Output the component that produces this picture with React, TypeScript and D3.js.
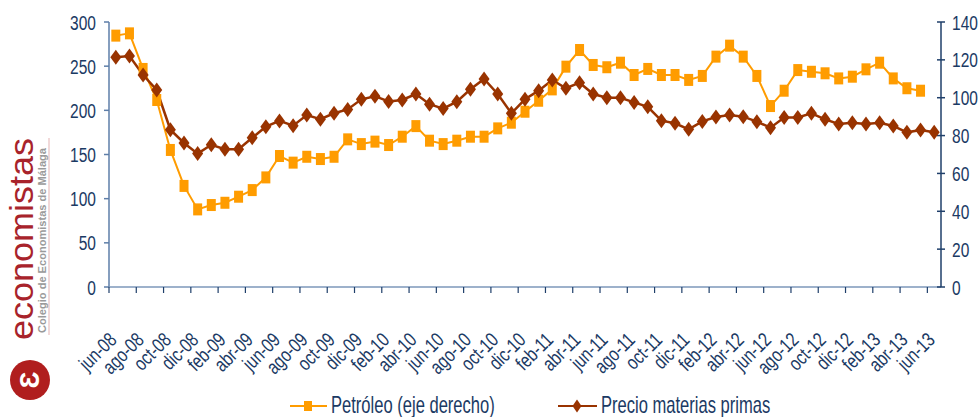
import React from "react";
import * as d3 from "d3";

const months = [
  "jun-08","jul-08","ago-08","sep-08","oct-08","nov-08","dic-08","ene-09","feb-09","mar-09","abr-09","may-09",
  "jun-09","jul-09","ago-09","sep-09","oct-09","nov-09","dic-09","ene-10","feb-10","mar-10","abr-10","may-10",
  "jun-10","jul-10","ago-10","sep-10","oct-10","nov-10","dic-10","ene-11","feb-11","mar-11","abr-11","may-11",
  "jun-11","jul-11","ago-11","sep-11","oct-11","nov-11","dic-11","ene-12","feb-12","mar-12","abr-12","may-12",
  "jun-12","jul-12","ago-12","sep-12","oct-12","nov-12","dic-12","ene-13","feb-13","mar-13","abr-13","may-13",
  "jun-13"
];

// Precio materias primas (eje izquierdo)
const precio = [
  260, 261.5, 240, 223, 178, 163, 151, 161, 156, 156, 169, 181.5,
  188, 182.6, 194.7, 190, 196.7, 201, 212.5, 216, 210, 211.7, 218.5, 207,
  202, 209.8, 223.8, 235.5, 218.5, 196.6, 212.5, 222.3, 234.3, 225, 231.3, 218.5,
  214.3, 214.3, 209, 204, 188.3, 185.3, 178.5, 187.5, 192.5, 194.7, 192.8, 187.2,
  180.4, 192, 192, 196.6, 189.8, 184.5, 186, 184.5, 186, 182.3, 175.1, 177.7,
  175.1
];

// Petróleo (eje derecho)
const petroleo: (number | null)[] = [
  132.8, 134, 115.2, 98.8, 72.4, 53.4, 41, 43.3, 44.5, 47.7, 51.2, 57.9,
  69.2, 65.7, 68.8, 67.6, 68.8, 78, 75.5, 76.8, 75, 79.4, 85, 77.3,
  75.5, 77.3, 79.4, 79.4, 83.8, 86.8, 92.6, 98.4, 104.4, 116.4, 125.2, 117.3,
  116.1, 118.5, 112, 115.2, 112, 112, 109.4, 111.5, 121.7, 127.5, 121.7, 111.5,
  95.6, 103.7, 114.6, 113.7, 112.9, 110.2, 111.1, 115, 118.5, 110.2, 105, 103.7,
  null
];

const leftTicks = [0, 50, 100, 150, 200, 250, 300];
const rightTicks = [0, 20, 40, 60, 80, 100, 120, 140];

const seriesNames = ["Petróleo (eje derecho)", "Precio materias primas"];

const FONT = "'Liberation Sans', Arial, sans-serif";
const TXT = "#1B3A64";
const ORANGE = "#FF9C00";
const BROWN = "#993300";

export default function App() {
  const W = 979, H = 417;
  const x0 = 109, x1 = 941, yTop = 22, yBot = 287;
  const x = d3.scaleBand<string>().domain(months).range([x0, x1]);
  const bw = x.bandwidth();
  const cx = (m: string) => (x(m) as number) + bw / 2;
  const yL = d3.scaleLinear().domain([0, 300]).range([yBot, yTop]);
  const yR = d3.scaleLinear().domain([0, 140]).range([yBot, yTop]);

  const lineL = d3.line<number>().x((_, i) => cx(months[i])).y((d) => yL(d));
  const lineR = d3
    .line<number | null>()
    .defined((d) => d != null)
    .x((_, i) => cx(months[i]))
    .y((d) => yR(d as number));

  const sx = 0.74;
  const diamond = (px: number, py: number, w = 11, h = 15) =>
    `M${px},${py - h / 2}L${px + w / 2},${py}L${px},${py + h / 2}L${px - w / 2},${py}Z`;

  const xTickIdx = d3.range(0, months.length, 2);

  return (
    <svg width={W} height={H} style={{ position: "absolute", left: 0, top: 0, background: "#fff" }} fontFamily={FONT}>
      <rect x={0} y={0} width={W} height={H} fill="#fff" />

      {/* Logo */}
      <line x1={49} y1={138} x2={49} y2={335} stroke="#E8C0C0" strokeWidth={1.2} />
      <text transform="translate(33,340) rotate(-90)" fontSize={32.5} fill="#A8232B" fontFamily={FONT} textLength={202} lengthAdjust="spacingAndGlyphs">
        economistas
      </text>
      <text transform="translate(45.5,333) rotate(-90)" fontSize={10.5} fontWeight="bold" fill="#9A9A9A" fontFamily={FONT} textLength={185} lengthAdjust="spacingAndGlyphs">
        Colegio de Economistas de Málaga
      </text>
      <circle cx={30} cy={380} r={20} fill="#B01E1E" />
      <text transform="translate(39,380) rotate(-90)" fontSize={27} fontWeight="bold" fill="#fff" textAnchor="middle" fontFamily={FONT}>
        Ɛ
      </text>

      {/* Axes */}
      <line x1={x0} y1={yTop} x2={x0} y2={yBot} stroke="#5E7EA8" strokeWidth={1.5} />
      <line x1={x0} y1={yBot} x2={x1} y2={yBot} stroke="#7D97BA" strokeWidth={1.5} />
      <line x1={x1} y1={yTop} x2={x1} y2={yBot} stroke="#1F3F6A" strokeWidth={1.5} />

      {leftTicks.map((t) => (
        <g key={"l" + t}>
          <line x1={x0 - 5} x2={x0} y1={yL(t)} y2={yL(t)} stroke="#5E7EA8" strokeWidth={1.5} />
          <text transform={`translate(96,${yL(t) + 7.5}) scale(${sx},1)`} textAnchor="end" fontSize={21} fill={TXT}>
            {t}
          </text>
        </g>
      ))}
      {rightTicks.map((t) => (
        <g key={"r" + t}>
          <line x1={x1 - 4} x2={x1 + 4} y1={yR(t)} y2={yR(t)} stroke="#1F3F6A" strokeWidth={1.5} />
          <text transform={`translate(952,${yR(t) + 7.5}) scale(${sx},1)`} textAnchor="start" fontSize={21} fill={TXT}>
            {t}
          </text>
        </g>
      ))}
      {xTickIdx.map((i) => {
        const tx = x(months[i]) as number;
        return <line key={"xt" + i} x1={tx} x2={tx} y1={yBot} y2={yBot + 6} stroke="#1F3F6A" strokeWidth={1.2} />;
      })}
      {xTickIdx.map((i) => (
        <text
          key={"xl" + i}
          transform={`translate(${cx(months[i]) + 2},341) rotate(-45) scale(${sx + 0.04},1)`}
          textAnchor="end"
          fontSize={20}
          fill={TXT}
        >
          {months[i]}
        </text>
      ))}

      {/* Series */}
      <path d={lineR(petroleo) || ""} fill="none" stroke={ORANGE} strokeWidth={2} />
      <path d={lineL(precio) || ""} fill="none" stroke={BROWN} strokeWidth={2.5} />
      {petroleo.map((v, i) =>
        v == null ? null : (
          <rect key={"p" + i} x={cx(months[i]) - 4.5} y={yR(v) - 6} width={9} height={12} fill={ORANGE} />
        )
      )}
      {precio.map((v, i) => (
        <path key={"m" + i} d={diamond(cx(months[i]), yL(v))} fill={BROWN} />
      ))}

      {/* Legend */}
      <line x1={290} x2={327} y1={406} y2={406} stroke={ORANGE} strokeWidth={2} />
      <rect x={304} y={401} width={8} height={10} fill={ORANGE} />
      <text transform={`translate(331,413) scale(0.72,1)`} fontSize={23} fill={TXT}>
        {seriesNames[0]}
      </text>
      <line x1={558} x2={597} y1={406} y2={406} stroke={BROWN} strokeWidth={2} />
      <path d={diamond(577, 406, 9, 13)} fill={BROWN} />
      <text transform={`translate(601,413) scale(0.72,1)`} fontSize={23} fill={TXT}>
        {seriesNames[1]}
      </text>
    </svg>
  );
}
